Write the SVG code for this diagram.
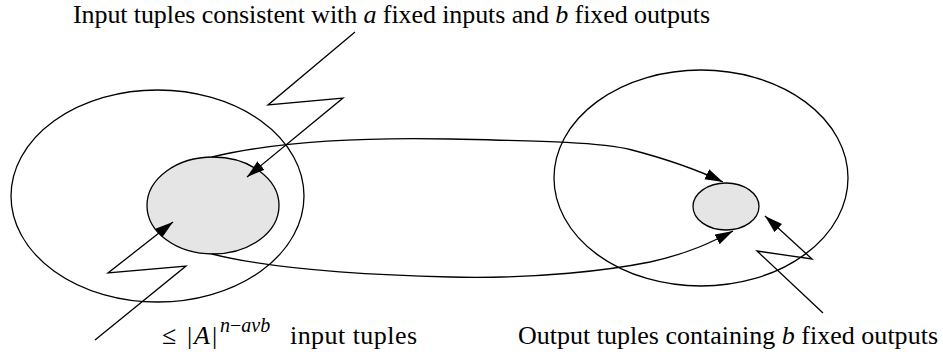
<svg xmlns="http://www.w3.org/2000/svg" width="943" height="356" viewBox="0 0 943 356">
<defs>
<style>
.ln{fill:none;stroke:#000;stroke-width:1.3}
.big{fill:none;stroke:#000;stroke-width:1.3}
.set{fill:#e5e5e5;stroke:#000;stroke-width:1.3}
.t{font-family:"Liberation Serif","DejaVu Serif",serif;font-size:26px;fill:#000}
.s{font-size:20px}
.i{font-style:italic}
</style>
<marker id="ah" markerUnits="userSpaceOnUse" markerWidth="20" markerHeight="12" refX="18" refY="5.5" orient="auto">
<path d="M0,0 L18,5.5 L0,11 Z" fill="#000"/>
</marker>
</defs>
<rect width="943" height="356" fill="#fff"/>
<g id="input-space"><ellipse class="big" cx="157.5" cy="196" rx="146.5" ry="106"/></g>
<g id="input-subset"><ellipse class="set" cx="213" cy="205.5" rx="66" ry="48.5"/></g>
<g id="output-space"><ellipse class="big" cx="701" cy="178" rx="147" ry="108"/></g>
<g id="output-subset"><ellipse class="set" cx="726" cy="206.5" rx="33" ry="23.5"/></g>
<g id="connectors">
<path class="ln" marker-end="url(#ah)" d="M212,157 C270,143 350,137 450,139 C540,141 600,142 632,150 C670,160 700,171 723,182"/>
<path class="ln" marker-end="url(#ah)" d="M212,254 C260,266 330,274 450,277 C540,279 610,270 650,262 C690,253 712,242 733,231"/>
<path class="ln" marker-end="url(#ah)" d="M355,32 L268,105 L343,98 L247,177"/>
<path class="ln" marker-end="url(#ah)" d="M95,340 L186,266 L108,273 L173,222"/>
<path class="ln" marker-end="url(#ah)" d="M823,313 L757,251 L812,259 L765,216"/>
</g>
<g id="labels">
<text class="t" x="73" y="23" textLength="637" lengthAdjust="spacing">Input tuples consistent with <tspan class="i">a</tspan> fixed inputs and <tspan class="i">b</tspan> fixed outputs</text>
<text class="t" y="344"><tspan x="162">≤</tspan><tspan x="187">|</tspan><tspan class="i" x="194">A</tspan><tspan x="212">|</tspan><tspan class="s" x="220" dy="-12"><tspan class="i">n</tspan>−<tspan class="i">aνb</tspan></tspan></text>
<text class="t" x="290" y="344" textLength="127" lengthAdjust="spacing">input tuples</text>
<text class="t" x="518" y="344" textLength="420" lengthAdjust="spacing">Output tuples containing <tspan class="i">b</tspan> fixed outputs</text>
</g>
</svg>
